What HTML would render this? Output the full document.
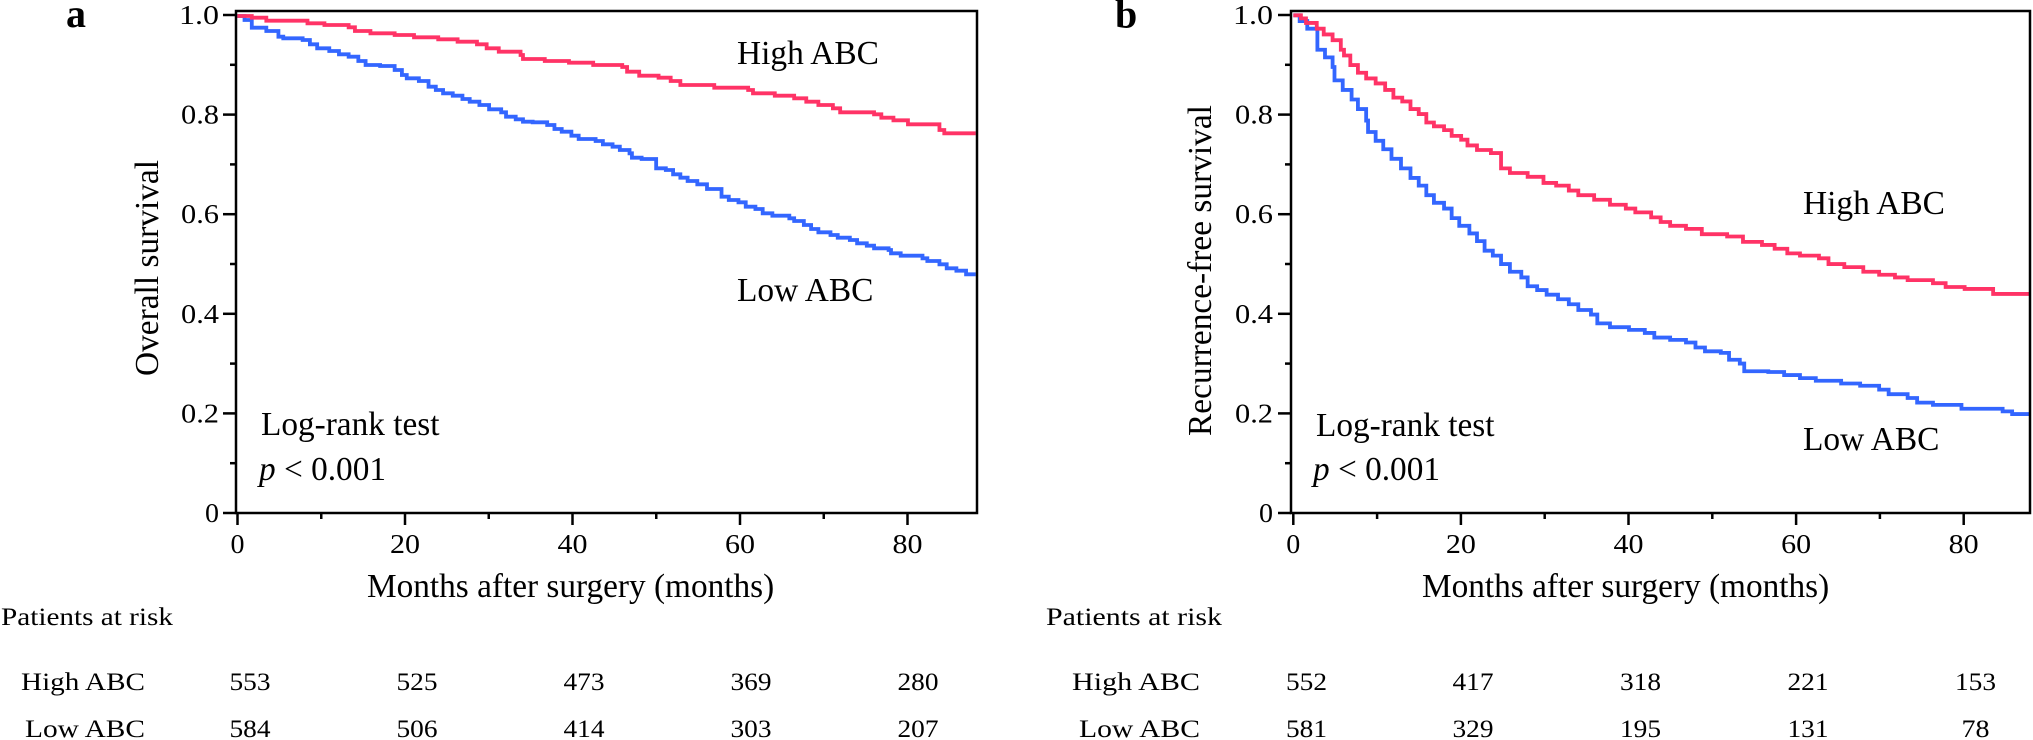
<!DOCTYPE html>
<html>
<head>
<meta charset="utf-8">
<style>
  html, body { margin: 0; padding: 0; background: #ffffff; }
  svg { display: block; }
  text { font-family: "Liberation Serif", "Times New Roman", serif; fill: #000; }
</style>
</head>
<body>
<svg width="2033" height="740" viewBox="0 0 2033 740" xmlns="http://www.w3.org/2000/svg">
  <rect x="0" y="0" width="2033" height="740" fill="#ffffff"/>

  <!-- ================= PANEL A ================= -->
  <text x="66" y="27" font-size="40" font-weight="bold">a</text>

  <!-- curves panel a (traced coords) -->
  <g transform="translate(230,5) scale(0.48426,0.33333)" fill="none" stroke-linejoin="miter">
    <path vector-effect="non-scaling-stroke" stroke="#3366FF" stroke-width="3.8"
      d="M15,33 H30 V45 H45 V68 H75 V78 H100 V95 H110 V100 H150 V105 H165 V118 H180 V130 H205 V138 H225 V148 H245 V155 H265 V168 H280 V180 H310 V183 H340 V195 H355 V210 H365 V220 H390 V228 H410 V245 H425 V255 H440 V265 H460 V272 H480 V282 H495 V290 H515 V300 H535 V313 H560 V322 H570 V335 H590 V343 H605 V350 H625 V352 H655 V360 H670 V372 H685 V380 H705 V392 H720 V402 H755 V408 H770 V418 H790 V425 H805 V435 H825 V445 H830 V458 H850 V462 H880 V490 H900 V495 H915 V508 H930 V518 H945 V528 H965 V538 H985 V552 H1015 V575 H1030 V585 H1050 V592 H1065 V605 H1085 V612 H1100 V625 H1120 V632 H1155 V640 H1165 V648 H1185 V660 H1200 V672 H1215 V682 H1240 V690 H1255 V698 H1280 V705 H1295 V715 H1315 V722 H1330 V730 H1360 V735 H1365 V745 H1385 V752 H1430 V760 H1440 V768 H1465 V778 H1480 V790 H1500 V797 H1520 V808 H1540"/>
    <path vector-effect="non-scaling-stroke" stroke="#FF3366" stroke-width="3.8"
      d="M15,33 H45 V38 H75 V47 H160 V55 H195 V60 H245 V67 H258 V78 H290 V85 H340 V90 H380 V97 H430 V103 H470 V110 H510 V118 H530 V130 H555 V140 H600 V150 H605 V162 H650 V168 H700 V173 H750 V180 H810 V186 H820 V200 H845 V212 H885 V218 H910 V228 H930 V240 H1000 V248 H1070 V255 H1080 V265 H1125 V272 H1165 V280 H1190 V290 H1215 V300 H1245 V310 H1260 V322 H1330 V328 H1345 V338 H1370 V346 H1400 V358 H1465 V375 H1475 V385 H1540"/>
  </g>

  <!-- frame panel a -->
  <rect x="236" y="11" width="741" height="502" fill="none" stroke="#000" stroke-width="2.5"/>

  <!-- y ticks panel a -->
  <g stroke="#000" stroke-width="2.5">
    <line x1="223" y1="15" x2="236" y2="15"/>
    <line x1="230" y1="64.8" x2="236" y2="64.8"/>
    <line x1="223" y1="114.6" x2="236" y2="114.6"/>
    <line x1="230" y1="164.4" x2="236" y2="164.4"/>
    <line x1="223" y1="214.2" x2="236" y2="214.2"/>
    <line x1="230" y1="264" x2="236" y2="264"/>
    <line x1="223" y1="313.8" x2="236" y2="313.8"/>
    <line x1="230" y1="363.6" x2="236" y2="363.6"/>
    <line x1="223" y1="413.4" x2="236" y2="413.4"/>
    <line x1="230" y1="463.2" x2="236" y2="463.2"/>
    <line x1="223" y1="513" x2="236" y2="513"/>
    <!-- x ticks -->
    <line x1="237.5" y1="513" x2="237.5" y2="525"/>
    <line x1="321.25" y1="513" x2="321.25" y2="519"/>
    <line x1="405" y1="513" x2="405" y2="525"/>
    <line x1="488.75" y1="513" x2="488.75" y2="519"/>
    <line x1="572.5" y1="513" x2="572.5" y2="525"/>
    <line x1="656.25" y1="513" x2="656.25" y2="519"/>
    <line x1="740" y1="513" x2="740" y2="525"/>
    <line x1="823.75" y1="513" x2="823.75" y2="519"/>
    <line x1="907.5" y1="513" x2="907.5" y2="525"/>
  </g>

  <!-- y tick labels panel a -->
  <g font-size="27" text-anchor="end">
    <text x="219" y="24" textLength="40" lengthAdjust="spacingAndGlyphs">1.0</text>
    <text x="219" y="123.6" textLength="38" lengthAdjust="spacingAndGlyphs">0.8</text>
    <text x="219" y="223.2" textLength="38" lengthAdjust="spacingAndGlyphs">0.6</text>
    <text x="219" y="322.8" textLength="38" lengthAdjust="spacingAndGlyphs">0.4</text>
    <text x="219" y="422.4" textLength="38" lengthAdjust="spacingAndGlyphs">0.2</text>
    <text x="219" y="522" textLength="14" lengthAdjust="spacingAndGlyphs">0</text>
  </g>
  <!-- x tick labels panel a -->
  <g font-size="27" text-anchor="middle">
    <text x="237.5" y="553" textLength="14" lengthAdjust="spacingAndGlyphs">0</text>
    <text x="405" y="553" textLength="30" lengthAdjust="spacingAndGlyphs">20</text>
    <text x="572.5" y="553" textLength="30" lengthAdjust="spacingAndGlyphs">40</text>
    <text x="740" y="553" textLength="30" lengthAdjust="spacingAndGlyphs">60</text>
    <text x="907.5" y="553" textLength="30" lengthAdjust="spacingAndGlyphs">80</text>
  </g>

  <text x="367" y="597" font-size="33.3">Months after surgery (months)</text>
  <text transform="translate(158,268) rotate(-90)" text-anchor="middle" font-size="33.4">Overall survival</text>

  <text x="737" y="64" font-size="33.4">High ABC</text>
  <text x="737" y="301" font-size="33.4">Low ABC</text>
  <text x="261" y="435" font-size="33.3">Log-rank test</text>
  <text x="259" y="480" font-size="33.3"><tspan font-style="italic">p</tspan> &lt; 0.001</text>

  <!-- risk table panel a -->
  <g font-size="25.5">
    <text x="1" y="625" textLength="172" lengthAdjust="spacingAndGlyphs">Patients at risk</text>
    <text x="21" y="690" textLength="124" lengthAdjust="spacingAndGlyphs">High ABC</text>
    <text x="25" y="737" textLength="120" lengthAdjust="spacingAndGlyphs">Low ABC</text>
  </g>
  <g font-size="25.5" text-anchor="middle">
    <text x="250" y="690" textLength="41" lengthAdjust="spacingAndGlyphs">553</text>
    <text x="417" y="690" textLength="41" lengthAdjust="spacingAndGlyphs">525</text>
    <text x="584" y="690" textLength="41" lengthAdjust="spacingAndGlyphs">473</text>
    <text x="751" y="690" textLength="41" lengthAdjust="spacingAndGlyphs">369</text>
    <text x="918" y="690" textLength="41" lengthAdjust="spacingAndGlyphs">280</text>
    <text x="250" y="737" textLength="41" lengthAdjust="spacingAndGlyphs">584</text>
    <text x="417" y="737" textLength="41" lengthAdjust="spacingAndGlyphs">506</text>
    <text x="584" y="737" textLength="41" lengthAdjust="spacingAndGlyphs">414</text>
    <text x="751" y="737" textLength="41" lengthAdjust="spacingAndGlyphs">303</text>
    <text x="918" y="737" textLength="41" lengthAdjust="spacingAndGlyphs">207</text>
  </g>

  <!-- ================= PANEL B ================= -->
  <text x="1115" y="27.5" font-size="40" font-weight="bold">b</text>

  <g transform="translate(1040,0) scale(0.63331,0.38270)" fill="none" stroke-linejoin="miter">
    <path vector-effect="non-scaling-stroke" stroke="#3366FF" stroke-width="3.8"
      d="M400,40 H410 V55 H422 V75 H438 V130 H450 V150 H462 V175 H465 V210 H478 V235 H492 V260 H502 V285 H515 V315 H518 V345 H530 V368 H542 V390 H555 V415 H570 V440 H585 V465 H598 V485 H610 V510 H622 V530 H638 V545 H650 V570 H662 V590 H678 V610 H690 V630 H702 V655 H715 V668 H728 V690 H742 V710 H760 V725 H770 V748 H785 V758 H800 V770 H818 V782 H835 V795 H850 V810 H870 V822 H880 V845 H900 V855 H930 V862 H955 V870 H970 V882 H995 V888 H1020 V895 H1035 V908 H1050 V918 H1075 V922 H1088 V940 H1105 V950 H1112 V970 H1150 V972 H1175 V980 H1200 V988 H1225 V995 H1265 V1002 H1295 V1008 H1325 V1018 H1340 V1030 H1370 V1040 H1385 V1052 H1410 V1058 H1455 V1068 H1520 V1075 H1535 V1082 H1563"/>
    <path vector-effect="non-scaling-stroke" stroke="#FF3366" stroke-width="3.8"
      d="M400,40 H412 V48 H420 V60 H437 V75 H448 V90 H462 V105 H475 V130 H480 V145 H490 V170 H502 V190 H515 V205 H530 V218 H545 V235 H558 V255 H572 V265 H585 V285 H598 V298 H610 V320 H622 V330 H638 V340 H650 V355 H665 V365 H675 V380 H690 V392 H712 V400 H728 V440 H742 V452 H770 V462 H795 V478 H815 V485 H835 V498 H850 V510 H875 V522 H900 V535 H925 V545 H940 V555 H965 V568 H980 V580 H995 V590 H1020 V598 H1045 V612 H1085 V618 H1110 V632 H1140 V640 H1160 V650 H1180 V662 H1200 V668 H1230 V675 H1245 V690 H1270 V698 H1300 V710 H1325 V718 H1350 V725 H1370 V732 H1410 V740 H1430 V750 H1460 V755 H1505 V768 H1563"/>
  </g>

  <rect x="1291" y="11" width="739" height="502" fill="none" stroke="#000" stroke-width="2.5"/>

  <g stroke="#000" stroke-width="2.5">
    <line x1="1278" y1="15" x2="1291" y2="15"/>
    <line x1="1285" y1="64.8" x2="1291" y2="64.8"/>
    <line x1="1278" y1="114.6" x2="1291" y2="114.6"/>
    <line x1="1285" y1="164.4" x2="1291" y2="164.4"/>
    <line x1="1278" y1="214.2" x2="1291" y2="214.2"/>
    <line x1="1285" y1="264" x2="1291" y2="264"/>
    <line x1="1278" y1="313.8" x2="1291" y2="313.8"/>
    <line x1="1285" y1="363.6" x2="1291" y2="363.6"/>
    <line x1="1278" y1="413.4" x2="1291" y2="413.4"/>
    <line x1="1285" y1="463.2" x2="1291" y2="463.2"/>
    <line x1="1278" y1="513" x2="1291" y2="513"/>
    <line x1="1293.3" y1="513" x2="1293.3" y2="525"/>
    <line x1="1377.1" y1="513" x2="1377.1" y2="519"/>
    <line x1="1460.9" y1="513" x2="1460.9" y2="525"/>
    <line x1="1544.7" y1="513" x2="1544.7" y2="519"/>
    <line x1="1628.5" y1="513" x2="1628.5" y2="525"/>
    <line x1="1712.3" y1="513" x2="1712.3" y2="519"/>
    <line x1="1796.1" y1="513" x2="1796.1" y2="525"/>
    <line x1="1879.9" y1="513" x2="1879.9" y2="519"/>
    <line x1="1963.7" y1="513" x2="1963.7" y2="525"/>
  </g>

  <g font-size="27" text-anchor="end">
    <text x="1273" y="24" textLength="40" lengthAdjust="spacingAndGlyphs">1.0</text>
    <text x="1273" y="123.6" textLength="38" lengthAdjust="spacingAndGlyphs">0.8</text>
    <text x="1273" y="223.2" textLength="38" lengthAdjust="spacingAndGlyphs">0.6</text>
    <text x="1273" y="322.8" textLength="38" lengthAdjust="spacingAndGlyphs">0.4</text>
    <text x="1273" y="422.4" textLength="38" lengthAdjust="spacingAndGlyphs">0.2</text>
    <text x="1273" y="522" textLength="14" lengthAdjust="spacingAndGlyphs">0</text>
  </g>
  <g font-size="27" text-anchor="middle">
    <text x="1293.3" y="553" textLength="14" lengthAdjust="spacingAndGlyphs">0</text>
    <text x="1460.9" y="553" textLength="30" lengthAdjust="spacingAndGlyphs">20</text>
    <text x="1628.5" y="553" textLength="30" lengthAdjust="spacingAndGlyphs">40</text>
    <text x="1796.1" y="553" textLength="30" lengthAdjust="spacingAndGlyphs">60</text>
    <text x="1963.7" y="553" textLength="30" lengthAdjust="spacingAndGlyphs">80</text>
  </g>

  <text x="1422" y="597" font-size="33.3">Months after surgery (months)</text>
  <text transform="translate(1211,270.5) rotate(-90)" text-anchor="middle" font-size="33.4">Recurrence-free survival</text>

  <text x="1803" y="214" font-size="33.4">High ABC</text>
  <text x="1803" y="450" font-size="33.4">Low ABC</text>
  <text x="1316" y="436" font-size="33.3">Log-rank test</text>
  <text x="1313" y="480" font-size="33.3"><tspan font-style="italic">p</tspan> &lt; 0.001</text>

  <g font-size="25.5">
    <text x="1046" y="625" textLength="176" lengthAdjust="spacingAndGlyphs">Patients at risk</text>
    <text x="1072" y="690" textLength="128" lengthAdjust="spacingAndGlyphs">High ABC</text>
    <text x="1079" y="737" textLength="121" lengthAdjust="spacingAndGlyphs">Low ABC</text>
  </g>
  <g font-size="25.5" text-anchor="middle">
    <text x="1306.5" y="690" textLength="41" lengthAdjust="spacingAndGlyphs">552</text>
    <text x="1473" y="690" textLength="41" lengthAdjust="spacingAndGlyphs">417</text>
    <text x="1640.5" y="690" textLength="41" lengthAdjust="spacingAndGlyphs">318</text>
    <text x="1808" y="690" textLength="41" lengthAdjust="spacingAndGlyphs">221</text>
    <text x="1975.5" y="690" textLength="41" lengthAdjust="spacingAndGlyphs">153</text>
    <text x="1306.5" y="737" textLength="41" lengthAdjust="spacingAndGlyphs">581</text>
    <text x="1473" y="737" textLength="41" lengthAdjust="spacingAndGlyphs">329</text>
    <text x="1640.5" y="737" textLength="41" lengthAdjust="spacingAndGlyphs">195</text>
    <text x="1808" y="737" textLength="41" lengthAdjust="spacingAndGlyphs">131</text>
    <text x="1975.5" y="737" textLength="28" lengthAdjust="spacingAndGlyphs">78</text>
  </g>
</svg>
</body>
</html>
